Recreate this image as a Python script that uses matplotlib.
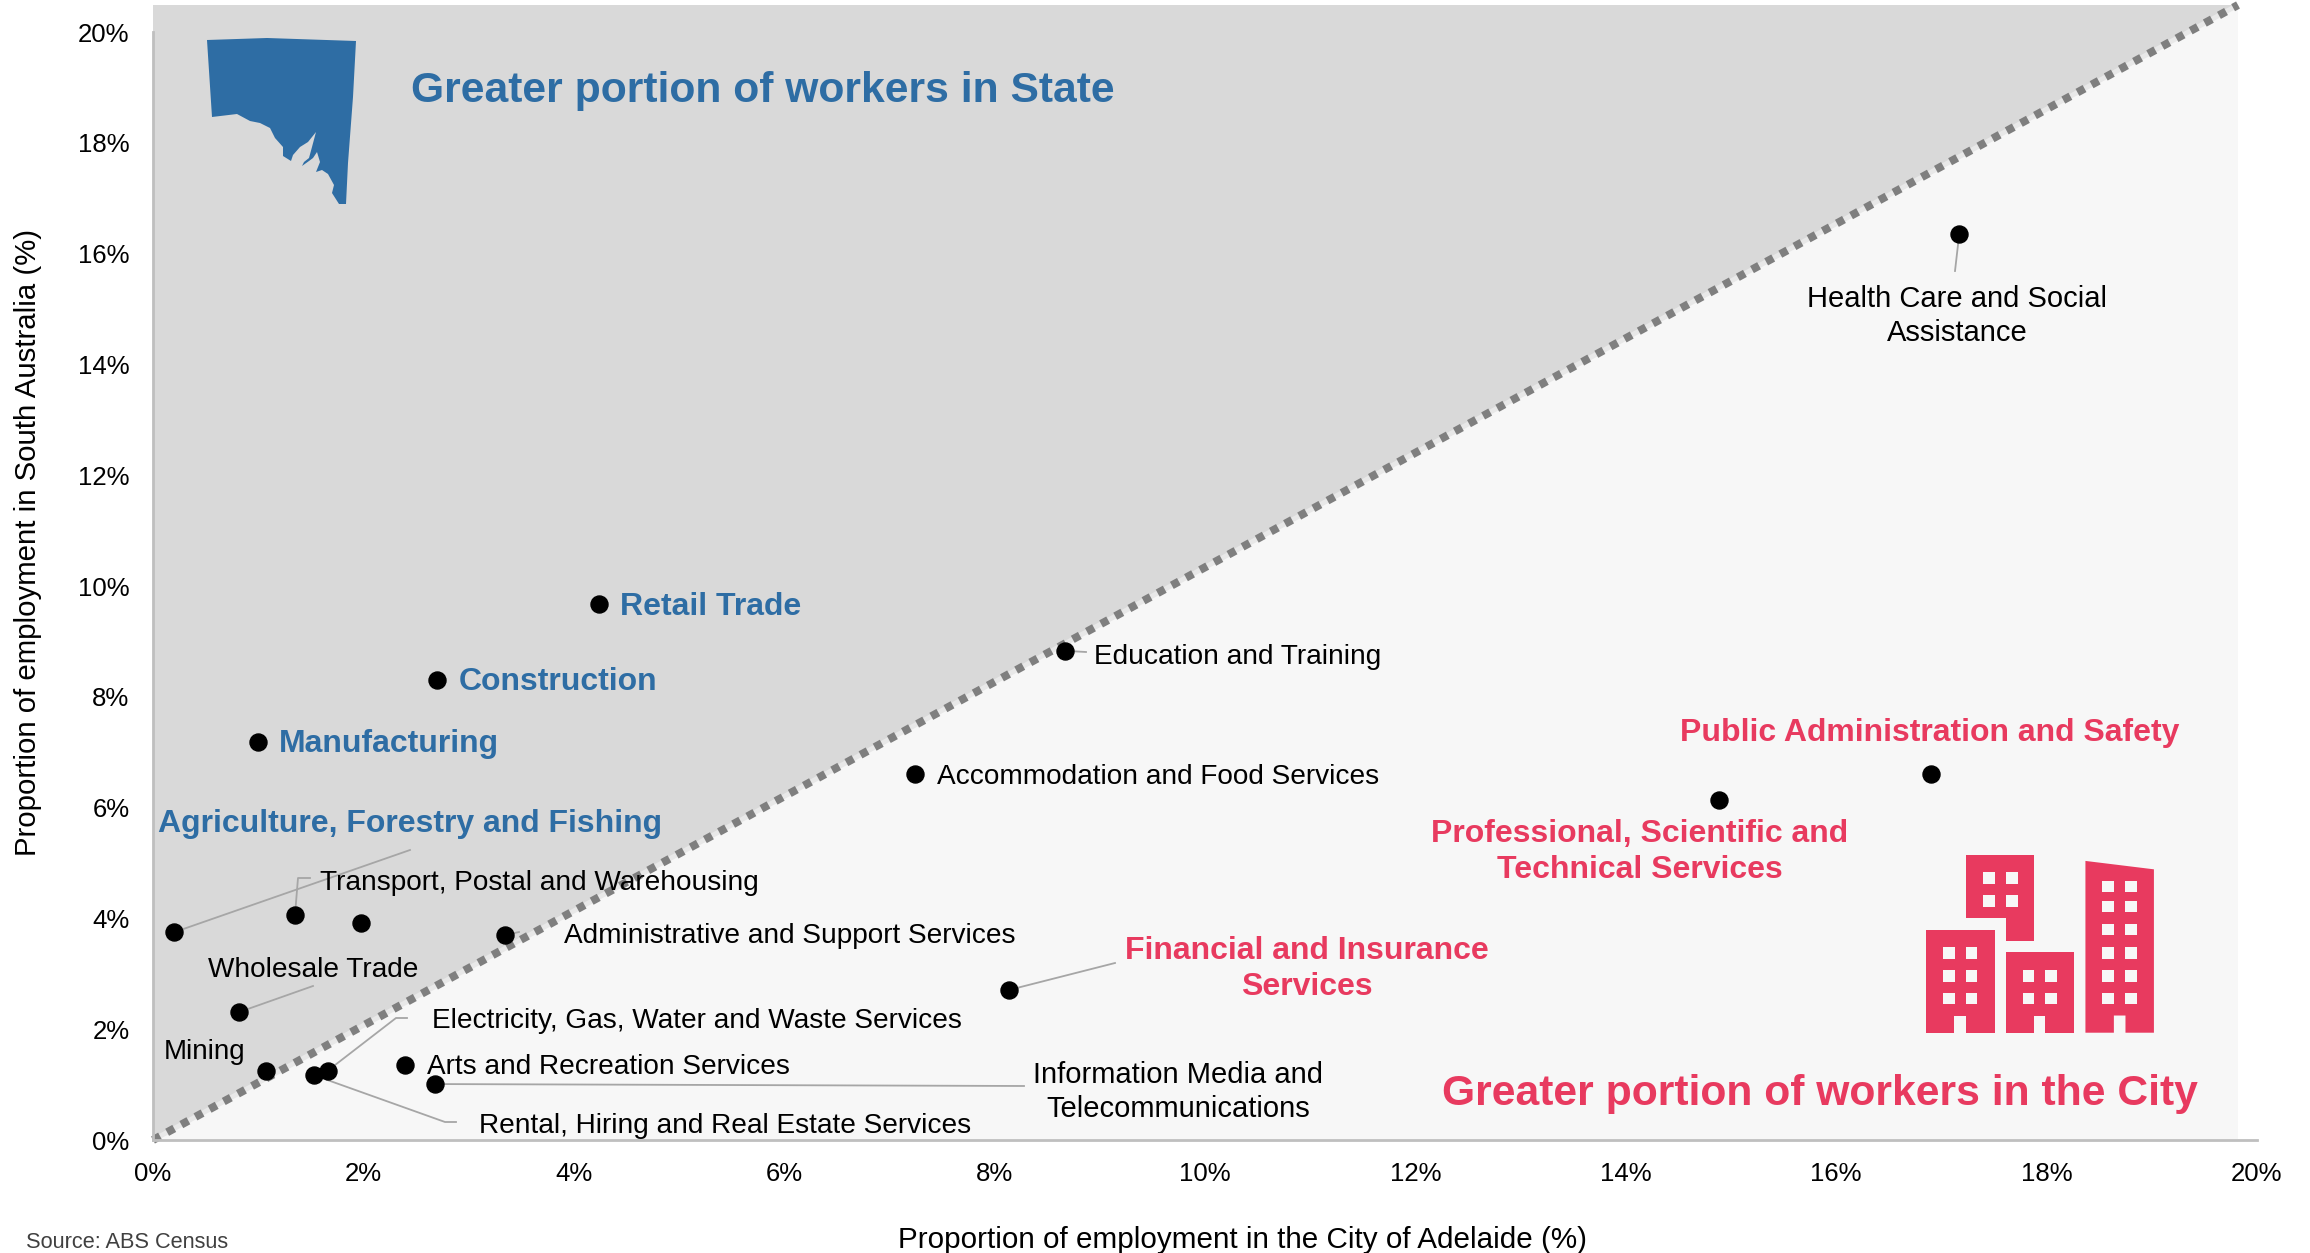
import matplotlib
matplotlib.use('Agg')
import matplotlib.pyplot as plt
from matplotlib.patches import Polygon, Rectangle

plt.rcParams['font.family'] = ['Liberation Sans', 'DejaVu Sans']

# Industry shares, % of employment
industries = ['Health Care and Social\nAssistance', 'Public Administration and Safety',
              'Professional, Scientific and\nTechnical Services', 'Education and Training',
              'Accommodation and Food Services', 'Retail Trade', 'Construction', 'Manufacturing',
              'Agriculture, Forestry and Fishing', 'Transport, Postal and Warehousing', '',
              'Administrative and Support Services', 'Financial and Insurance\nServices',
              'Wholesale Trade', 'Mining', 'Electricity, Gas, Water and Waste Services',
              'Rental, Hiring and Real Estate Services', 'Arts and Recreation Services',
              'Information Media and\nTelecommunications']
city_share = [17.17, 16.90, 14.89, 8.67, 7.24, 4.24, 2.70, 1.00, 0.20, 1.35, 1.98,
              3.35, 8.14, 0.82, 1.07, 1.66, 1.53, 2.40, 2.68]
state_share = [16.36, 6.60, 6.14, 8.83, 6.60, 9.68, 8.30, 7.18, 3.75, 4.07, 3.91,
               3.70, 2.71, 2.31, 1.25, 1.25, 1.17, 1.36, 1.01]
tick_values = [0, 2, 4, 6, 8, 10, 12, 14, 16, 18, 20]

BLUE = '#2E6DA4'
RED = '#E83A5F'

W, H = 2310, 1253
X0, X1 = 153, 2257
Y0, Y1 = 1140, 32

# label placement in image pixels: x, y, horizontal alignment, colour, bold, font size
label_style = {
    0: (1957, 316, 'center', 'black', False, 21),
    1: (1930, 733, 'center', RED, True, 23),
    2: (1640, 852, 'center', RED, True, 23),
    3: (1094, 657, 'left', 'black', False, 20.2),
    4: (937, 777, 'left', 'black', False, 20.2),
    5: (620, 607, 'left', BLUE, True, 23),
    6: (459, 682, 'left', BLUE, True, 23),
    7: (279, 744, 'left', BLUE, True, 23),
    8: (158, 824, 'left', BLUE, True, 23),
    9: (320, 883, 'left', 'black', False, 20.2),
    11: (564, 936, 'left', 'black', False, 20.2),
    12: (1307, 969, 'center', RED, True, 23),
    13: (208, 970, 'left', 'black', False, 20.2),
    14: (164, 1052, 'left', 'black', False, 20),
    15: (432, 1021, 'left', 'black', False, 20.2),
    16: (479, 1126, 'left', 'black', False, 20.2),
    17: (427, 1067, 'left', 'black', False, 20.2),
    18: (1178, 1092, 'center', 'black', False, 21),
}

# leader lines, point index -> pixel path away from the point
leaders = {
    0: [(1955, 271)],
    3: [(1086, 652)],
    8: [(410, 850)],
    9: [(298, 878), (310, 878)],
    11: [(519, 932)],
    12: [(1115, 963)],
    13: [(313, 986)],
    15: [(396, 1018), (407, 1018)],
    16: [(445, 1122), (456, 1122)],
    18: [(1024, 1086)],
}

# South Australia outline, pixels
sa_outline = [(207, 40), (267, 38), (356, 41), (353, 97), (348, 163), (346, 204), (339, 204),
              (332, 193), (334, 185), (328, 174), (322, 170), (316, 172), (320, 162), (317, 152),
              (313, 158), (309, 161), (302, 166), (304, 162), (309, 158), (312, 147), (316, 132),
              (308, 142), (300, 147), (293, 155), (291, 161), (283, 156), (283, 147), (275, 138),
              (270, 128), (260, 123), (250, 121), (237, 114), (212, 117)]


# building icon, measured on the 910x573 crop of the reference
def bx(v):
    return 1400 + v / 1.723


def by(v):
    return 680 + v / 2.736


buildings = [
    [(906, 683), (1025, 683), (1025, 965), (975, 965), (975, 918), (955, 918), (955, 965), (906, 965)],
    [(1044, 745), (1162, 745), (1162, 965), (1112, 965), (1112, 918), (1093, 918), (1093, 965), (1044, 965)],
    [(975, 480), (1093, 480), (1093, 715), (1044, 715), (1044, 652), (975, 652)],
    [(1181, 495), (1299, 518), (1299, 965), (1250, 965), (1250, 918), (1230, 918), (1230, 965), (1181, 965)],
]
windows = [
    ([936, 975], [731, 794, 856]),
    ([1073, 1112], [794, 856]),
    ([1005, 1044], [526, 589]),
    ([1210, 1250], [550, 605, 668, 731, 794, 856]),
]

fig = plt.figure(figsize=(W / 100, H / 100), dpi=100)

# full-figure pixel layer for the shading, icons and labels
pix = fig.add_axes([0, 0, 1, 1], zorder=0)
pix.set_xlim(0, W)
pix.set_ylim(H, 0)
pix.axis('off')

ax = fig.add_axes([X0 / W, 1 - Y0 / H, (X1 - X0) / W, (Y0 - Y1) / H], zorder=1)
ax.patch.set_alpha(0)
ax.set_xlim(0, 20)
ax.set_ylim(0, 20)


def to_px(x, y):
    return X0 + x / 20 * (X1 - X0), Y0 - y / 20 * (Y0 - Y1)


# shaded halves
pix.add_patch(Polygon([(153, 1140), (153, 5), (2238, 5)], color='#D9D9D9', lw=0))
pix.add_patch(Polygon([(153, 1140), (2238, 1140), (2238, 5)], color='#F7F7F7', lw=0))
pix.plot([153, 2238], [1140, 5], color='#E8E8E8', lw=3.5, solid_capstyle='butt')
pix.plot([153, 2238], [1140, 5], color='#7F7F7F', lw=5.8, linestyle=(0, (1, 1)), dash_capstyle='butt')

# icons
pix.add_patch(Polygon(sa_outline, color=BLUE, lw=0))
for b in buildings:
    pix.add_patch(Polygon([(bx(a), by(c)) for a, c in b], color=RED, lw=0))
for cols, rows in windows:
    for c in cols:
        for r in rows:
            pix.add_patch(Rectangle((bx(c), by(r)), 20 / 1.723, 31 / 2.736, color='#F7F7F7', lw=0))

# leader lines
for i, path in leaders.items():
    sx, sy = to_px(city_share[i], state_share[i])
    xs = [sx] + [p[0] for p in path]
    ys = [sy] + [p[1] for p in path]
    pix.plot(xs, ys, color='#A6A6A6', lw=1.3)

# labels
for i, (lx, ly, ha, col, bold, size) in label_style.items():
    pix.text(lx, ly, industries[i], ha=ha, va='center', color=col, fontsize=size,
             fontweight='bold' if bold else 'normal', linespacing=1.25)

pix.text(411, 91, 'Greater portion of workers in State', color=BLUE, fontsize=30.7, fontweight='bold', va='center')
pix.text(1820, 1094, 'Greater portion of workers in the City', color=RED, fontsize=30.7, fontweight='bold',
         va='center', ha='center')

# points
ax.scatter(city_share, state_share, s=150, color='black', zorder=5, clip_on=False)

# axes
for side in ['top', 'right']:
    ax.spines[side].set_visible(False)
for side in ['left', 'bottom']:
    ax.spines[side].set_color('#BFBFBF')
    ax.spines[side].set_linewidth(2)
ax.set_xticks(tick_values)
ax.set_yticks(tick_values)
ax.set_xticklabels([f'{t}%' for t in tick_values])
ax.set_yticklabels([f'{t}%' for t in tick_values])
ax.tick_params(length=0, labelsize=18.5, pad=16)
ax.tick_params(axis='y', pad=17)

fig.text(1242 / W, 1 - 1240 / H, 'Proportion of employment in the City of Adelaide (%)', fontsize=21.3,
         ha='center', va='center')
fig.text(28 / W, 1 - 542 / H, 'Proportion of employment in South Australia (%)', fontsize=21.2,
         rotation=90, ha='center', va='center')
fig.text(26 / W, 1 - 1243 / H, 'Source: ABS Census', fontsize=15.7, color='#404040', ha='left', va='center')

fig.savefig('out.png', dpi=100)
